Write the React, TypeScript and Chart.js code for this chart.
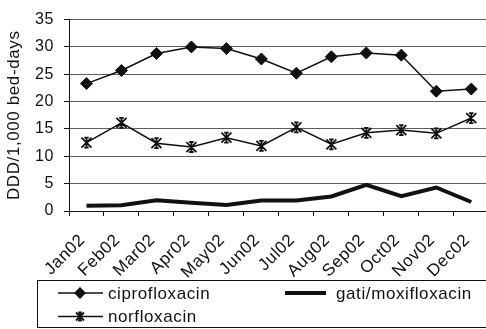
import React, { useEffect, useRef } from "react";
import { Chart, registerables } from "chart.js";

Chart.register(...registerables);

const months = ["Jan02", "Feb02", "Mar02", "Apr02", "May02", "Jun02", "Jul02", "Aug02", "Sep02", "Oct02", "Nov02", "Dec02"];
const ciprofloxacin = [23.3, 25.7, 28.8, 30.0, 29.7, 27.8, 25.2, 28.2, 28.9, 28.5, 21.9, 22.3];
const norfloxacin = [12.5, 16.1, 12.4, 11.7, 13.4, 11.9, 15.3, 12.2, 14.3, 14.8, 14.2, 17.0];
const gatiMoxifloxacin = [0.95, 1.05, 1.95, 1.5, 1.1, 1.9, 1.9, 2.65, 4.8, 2.7, 4.3, 1.65];
const yTicks = [0, 5, 10, 15, 20, 25, 30, 35];

const FONT = "'Liberation Sans', Arial, Helvetica, sans-serif";
const INK = "#111111";

// Star marker: a diagonal cross with a vertical stroke and short caps
function drawStar(ctx: CanvasRenderingContext2D, cx: number, cy: number, r: number) {
  ctx.beginPath();
  ctx.moveTo(cx - r, cy - r);
  ctx.lineTo(cx + r, cy + r);
  ctx.moveTo(cx + r, cy - r);
  ctx.lineTo(cx - r, cy + r);
  ctx.moveTo(cx, cy - r);
  ctx.lineTo(cx, cy + r);
  ctx.moveTo(cx - r * 0.45, cy - r);
  ctx.lineTo(cx + r * 0.45, cy - r);
  ctx.moveTo(cx - r * 0.45, cy + r);
  ctx.lineTo(cx + r * 0.45, cy + r);
  ctx.stroke();
}

// Draws the star markers of any dataset flagged with `starMarkers`
const starMarkerPlugin = {
  id: "starMarkers",
  afterDatasetsDraw(chart: any) {
    const ctx = chart.ctx as CanvasRenderingContext2D;
    chart.data.datasets.forEach((ds: any, i: number) => {
      if (!ds.starMarkers) return;
      const meta = chart.getDatasetMeta(i);
      ctx.save();
      ctx.strokeStyle = INK;
      ctx.lineWidth = 1.8;
      meta.data.forEach((pt: any) => drawStar(ctx, pt.x, pt.y, 5));
      ctx.restore();
    });
  },
};

// Slightly wider text, applied to every string the chart draws
const spacingPlugin = {
  id: "spacing",
  beforeLayout(chart: any) {
    chart.ctx.letterSpacing = "0.6px";
  },
  beforeDraw(chart: any) {
    chart.ctx.letterSpacing = "0.6px";
  },
};

// Boxed legend under the axis: two rows, line samples with markers
const boxLegendPlugin = {
  id: "boxLegend",
  afterDraw(chart: any) {
    const ctx = chart.ctx as CanvasRenderingContext2D;
    ctx.save();
    ctx.letterSpacing = "0.6px";
    ctx.strokeStyle = INK;
    ctx.lineWidth = 1;
    ctx.strokeRect(37.5, 280.5, chart.width, 47);

    const row1 = 293;
    const row2 = 316.5;
    ctx.font = `17px ${FONT}`;
    ctx.fillStyle = INK;
    ctx.textBaseline = "middle";
    ctx.textAlign = "left";

    // ciprofloxacin
    ctx.lineWidth = 1.5;
    ctx.beginPath();
    ctx.moveTo(58, row1);
    ctx.lineTo(103, row1);
    ctx.stroke();
    ctx.beginPath();
    ctx.moveTo(80 - 6, row1);
    ctx.lineTo(80, row1 - 6);
    ctx.lineTo(80 + 6, row1);
    ctx.lineTo(80, row1 + 6);
    ctx.closePath();
    ctx.fill();
    ctx.fillText("ciprofloxacin", 108, row1 + 1);

    // norfloxacin
    ctx.lineWidth = 1.5;
    ctx.beginPath();
    ctx.moveTo(58, row2);
    ctx.lineTo(103, row2);
    ctx.stroke();
    ctx.lineWidth = 1.8;
    drawStar(ctx, 80, row2, 4);
    ctx.fillText("norfloxacin", 108, row2 + 1);

    // gati/moxifloxacin
    ctx.lineWidth = 4;
    ctx.beginPath();
    ctx.moveTo(285, row1);
    ctx.lineTo(326, row1);
    ctx.stroke();
    ctx.fillText("gati/moxifloxacin", 336, row1 + 1);
    ctx.restore();
  },
};

export default function App() {
  const canvasRef = useRef<HTMLCanvasElement | null>(null);

  useEffect(() => {
    const canvas = canvasRef.current;
    if (!canvas) return;
    const chart = new Chart(canvas, {
      type: "line",
      data: {
        labels: months,
        datasets: [
          {
            label: "ciprofloxacin",
            data: ciprofloxacin,
            borderColor: INK,
            backgroundColor: INK,
            borderWidth: 1.5,
            pointStyle: "rectRot",
            pointRadius: 6,
            pointBorderWidth: 1,
            tension: 0,
          },
          {
            label: "gati/moxifloxacin",
            data: gatiMoxifloxacin,
            borderColor: INK,
            backgroundColor: INK,
            borderWidth: 4,
            pointRadius: 0,
            tension: 0,
          },
          {
            label: "norfloxacin",
            data: norfloxacin,
            borderColor: INK,
            backgroundColor: INK,
            borderWidth: 1.5,
            pointRadius: 0,
            tension: 0,
            starMarkers: true,
          },
        ],
      },
      options: {
        responsive: false,
        devicePixelRatio: 1,
        animation: false,
        layout: { padding: { top: 13, right: 5, bottom: 48, left: 0 } },
        plugins: {
          legend: { display: false },
          tooltip: { enabled: false },
        },
        scales: {
          x: {
            type: "category",
            offset: true,
            grid: {
              offset: true,
              drawOnChartArea: false,
              drawTicks: true,
              tickLength: 5,
              tickColor: INK,
              color: INK,
            },
            border: { color: INK, width: 1 },
            ticks: {
              color: INK,
              font: { family: FONT, size: 17 },
              minRotation: 45,
              maxRotation: 45,
              autoSkip: false,
              labelOffset: -4,
              padding: 14,
            },
            afterFit(scale: any) {
              scale.height = 70;
            },
          },
          y: {
            min: 0,
            max: 35,
            afterBuildTicks(scale: any) {
              scale.ticks = yTicks.map((v) => ({ value: v }));
            },
            grid: {
              color: "#5e5e5e",
              lineWidth: 1,
              drawTicks: true,
              tickLength: 5,
              tickColor: INK,
            },
            border: { color: INK, width: 1 },
            ticks: {
              color: INK,
              font: { family: FONT, size: 16 },
              padding: 10,
            },
            title: {
              display: true,
              text: "DDD/1,000 bed-days",
              color: INK,
              font: { family: FONT, size: 17 },
              padding: { top: 4, bottom: 0 },
            },
            afterFit(scale: any) {
              scale.width = 69;
            },
          },
        },
      },
      plugins: [spacingPlugin, starMarkerPlugin, boxLegendPlugin],
    } as any);
    return () => chart.destroy();
  }, []);

  return (
    <div
      style={{
        position: "fixed",
        left: 0,
        top: 0,
        width: 486,
        height: 329,
        overflow: "hidden",
        background: "#ffffff",
      }}
    >
      <canvas
        ref={canvasRef}
        width={500}
        height={329}
        style={{ display: "block", width: 500, height: 329 }}
      />
    </div>
  );
}
